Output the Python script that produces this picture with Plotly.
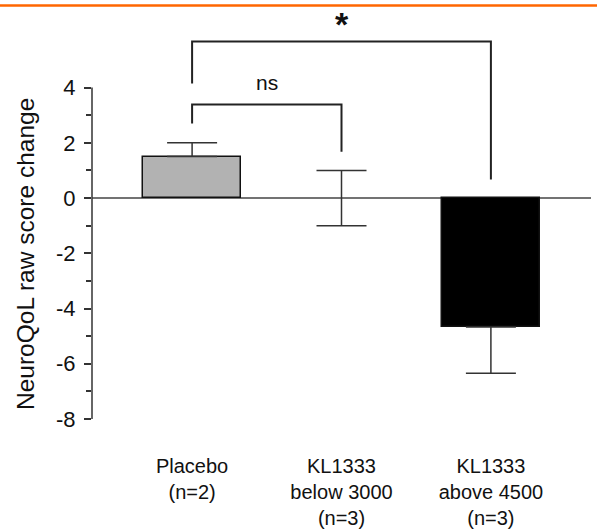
import plotly.graph_objects as go

# ---- data ----
categories = ["Placebo<br>(n=2)", "KL1333<br>below 3000<br>(n=3)", "KL1333<br>above 4500<br>(n=3)"]
means = [1.5, 0.0, -4.67]
err_up = [0.5, 1.0, 0.0]
err_down = [0.0, 1.0, 1.67]
bar_colors = ["#b2b2b2", "#ffffff", "#000000"]
y_major = [-8, -6, -4, -2, 0, 2, 4]
y_minor = [-7, -5, -3, -1, 1, 3]
y_title = "NeuroQoL raw score change"

# significance brackets: (left x, right x, top y, left leg bottom, right leg bottom, label, label y)
brackets = [
    (0, 1, 3.385, 2.70, 1.68, "ns", 4.2),
    (0, 2, 5.665, 4.145, 0.67, "*", 6.3),
]

x_range = [-0.67, 2.67]
y_range = [-8, 7.17]

FONT = "Arial, Liberation Sans, Helvetica, sans-serif"
DARK = "#333333"

fig = go.Figure()
fig.add_trace(go.Bar(
    x=[0, 1, 2], y=means, width=0.657,
    marker=dict(color=bar_colors, line=dict(color=["#111", "rgba(0,0,0,0)", "#111"], width=1.5)),
    error_y=dict(type="data", symmetric=False, array=err_up, arrayminus=err_down,
                 color=DARK, thickness=1.5, width=25),
    showlegend=False, hoverinfo="skip",
))

shapes = []
# zero line across the plot
shapes.append(dict(type="line", xref="paper", yref="y", x0=0, x1=1, y0=0, y1=0,
                   line=dict(color="#444", width=1.5), layer="below"))
# y axis line from -8 to 4
shapes.append(dict(type="line", xref="paper", yref="y", x0=0, x1=0, y0=y_major[0], y1=y_major[-1],
                   line=dict(color=DARK, width=1.5)))
# orange top rule
shapes.append(dict(type="line", xref="paper", yref="paper",
                   x0=-92 / 499, x1=(597 - 92) / 499, y0=1 - 5.5 / 419, y1=1 - 5.5 / 419,
                   line=dict(color="#FF6600", width=2.5)))

annotations = []
for (xl, xr, yt, yl, yr, lab, ly) in brackets:
    shapes.append(dict(type="path", xref="x", yref="y",
                       path=f"M {xl},{yl} L {xl},{yt} L {xr},{yt} L {xr},{yr}",
                       line=dict(color="#222", width=2)))
    is_star = lab == "*"
    annotations.append(dict(x=(xl + xr) / 2, y=ly, xref="x", yref="y", text=f"<b>{lab}</b>" if is_star else lab,
                            showarrow=False, font=dict(family=FONT, size=34 if is_star else 21, color="#111"),
                            xanchor="center", yanchor="middle"))

annotations.append(dict(x=(26 - 92) / 499, y=(419 - 254) / 419, xref="paper", yref="paper",
                        text=y_title, textangle=-90, showarrow=False,
                        font=dict(family=FONT, size=24.5, color="#111"),
                        xanchor="center", yanchor="middle"))

fig.update_layout(
    width=597, height=530,
    margin=dict(l=92, r=6, t=0, b=111),
    paper_bgcolor="white", plot_bgcolor="white",
    font=dict(family=FONT, color="#111"),
    shapes=shapes, annotations=annotations,
    bargap=0,
)
fig.update_xaxes(range=x_range, tickvals=[0, 1, 2], ticktext=categories, ticks="",
                 showline=False, showgrid=False, zeroline=False, automargin=False,
                 tickfont=dict(family=FONT, size=20, color="#111"), ticklabelstandoff=33)
fig.update_yaxes(range=y_range, tickvals=y_major, ticktext=[str(v) for v in y_major],
                 ticks="outside", ticklen=7, tickwidth=1.5, tickcolor=DARK,
                 showline=False, showgrid=False, zeroline=False, automargin=False,
                 tickfont=dict(family=FONT, size=22, color="#111"), ticklabelstandoff=4,
                 minor=dict(tickvals=y_minor, ticks="outside", ticklen=5, tickwidth=1.5, tickcolor=DARK))

fig.write_html("out.html", config={"displayModeBar": False},
               post_script="document.body.style.margin='0';")
